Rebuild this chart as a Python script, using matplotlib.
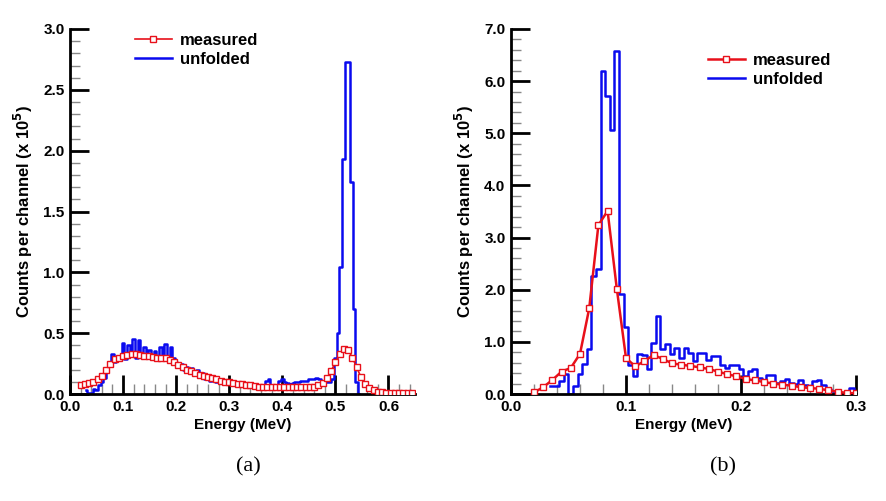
import numpy as np
import matplotlib
matplotlib.use("Agg")
import matplotlib.pyplot as plt
from matplotlib.ticker import MultipleLocator

plt.rcParams['font.family'] = ['Liberation Sans', 'DejaVu Sans']
plt.rcParams['font.weight'] = 'bold'
plt.rcParams['axes.labelweight'] = 'bold'

# ---- (a) measured: channels start at 0.020 MeV, 0.008 MeV apart
a_meas_start, a_meas_step = 0.020, 0.008
a_measured = [0.07, 0.08, 0.09, 0.10, 0.12, 0.15, 0.20, 0.25, 0.29, 0.30,
              0.31, 0.32, 0.325, 0.325, 0.32, 0.315, 0.31, 0.305, 0.30, 0.30,
              0.295, 0.28, 0.26, 0.24, 0.22, 0.20, 0.185, 0.17, 0.16, 0.15,
              0.14, 0.13, 0.12, 0.11, 0.10, 0.095, 0.09, 0.085, 0.08, 0.075,
              0.07, 0.065, 0.06, 0.06, 0.055, 0.055, 0.055, 0.055, 0.055, 0.055,
              0.055, 0.055, 0.055, 0.055, 0.06, 0.06, 0.07, 0.09, 0.13, 0.19,
              0.26, 0.33, 0.37, 0.36, 0.30, 0.22, 0.14, 0.08, 0.05, 0.03,
              0.02, 0.015, 0.01, 0.01, 0.01, 0.01, 0.01, 0.01, 0.01]

# ---- (a) unfolded: bin centres start at 0.030 MeV, 0.005 MeV apart
a_unf_start, a_unf_step = 0.030, 0.005
a_unfolded = [0.03, 0.01, 0.01, 0.04, 0.03, 0.07, 0.10, 0.13, 0.18, 0.24,
              0.33, 0.26, 0.30, 0.29, 0.42, 0.29, 0.40, 0.33, 0.45, 0.30,
              0.44, 0.33, 0.39, 0.33, 0.36, 0.32, 0.35, 0.30, 0.39, 0.30,
              0.41, 0.31, 0.39, 0.30, 0.26, 0.23, 0.25, 0.20, 0.22, 0.18,
              0.21, 0.16, 0.20, 0.14, 0.17, 0.12, 0.13, 0.11, 0.12, 0.10,
              0.10, 0.09, 0.10, 0.09, 0.09, 0.08, 0.09, 0.08, 0.08, 0.08,
              0.07, 0.07, 0.07, 0.06, 0.08, 0.05, 0.04, 0.05, 0.11, 0.12,
              0.07, 0.05, 0.06, 0.11, 0.12, 0.10, 0.09, 0.08, 0.09, 0.10,
              0.10, 0.11, 0.11, 0.11, 0.12, 0.12, 0.12, 0.13, 0.12, 0.11,
              0.10, 0.10, 0.10, 0.12, 0.30, 0.50, 1.04, 1.93, 2.73, 2.73,
              1.74, 0.70, 0.10, 0.00]

# ---- (b) measured: 0.020 .. 0.300 MeV, 0.008 MeV apart
b_meas_start, b_meas_step = 0.020, 0.008
b_measured = [0.03, 0.13, 0.27, 0.43, 0.50, 0.77, 1.64, 3.24, 3.51, 2.02,
              0.69, 0.53, 0.63, 0.75, 0.67, 0.59, 0.56, 0.54, 0.51, 0.48,
              0.43, 0.38, 0.34, 0.29, 0.26, 0.23, 0.20, 0.18, 0.16, 0.13,
              0.115, 0.10, 0.07, 0.045, 0.02, 0.01]

# ---- (b) unfolded: bin left edges start at 0.034 MeV, 0.004 MeV wide
b_unf_start, b_unf_step = 0.034, 0.004
b_unfolded = [0.15, 0.15, 0.25, 0.38, 0.00, 0.15, 0.38, 0.57, 0.87, 2.27,
              2.40, 6.20, 5.72, 5.07, 6.57, 1.92, 1.29, 0.55, 0.35, 0.77,
              0.74, 0.47, 0.98, 1.49, 0.87, 0.96, 0.77, 0.88, 0.70, 0.88,
              0.78, 0.63, 0.78, 0.78, 0.65, 0.72, 0.73, 0.55, 0.50, 0.55,
              0.56, 0.48, 0.35, 0.44, 0.47, 0.30, 0.25, 0.37, 0.36, 0.22,
              0.25, 0.28, 0.22, 0.19, 0.27, 0.17, 0.15, 0.25, 0.27, 0.17,
              0.10, 0.05, 0.02, 0.00, 0.00, 0.12, 0.00]

RED = '#e8101a'
BLUE = '#0a0aef'


def style_axes(ax, xmax, xmajor, ymax, ymajor, yminor):
    ax.set_xlim(0, xmax)
    ax.set_ylim(0, ymax)
    for s in ['top', 'right']:
        ax.spines[s].set_visible(False)
    for s in ['left', 'bottom']:
        ax.spines[s].set_linewidth(2)
    ax.xaxis.set_major_locator(MultipleLocator(xmajor))
    ax.xaxis.set_minor_locator(MultipleLocator(0.02))
    ax.yaxis.set_major_locator(MultipleLocator(ymajor))
    ax.yaxis.set_minor_locator(MultipleLocator(yminor))
    ax.xaxis.set_major_formatter(lambda v, p: f"{v:.1f}")
    ax.yaxis.set_major_formatter(lambda v, p: f"{v:.1f}")
    ax.tick_params(which='major', direction='in', length=14, width=2,
                   color='black', labelsize=11, pad=4)
    ax.tick_params(which='minor', direction='in', length=7, width=1,
                   color='#888888')
    ax.set_xlabel('Energy (MeV)', fontsize=11, labelpad=3)
    ax.set_ylabel('Counts per channel (x 10$^{\\mathbf{5}}$)', fontsize=12,
                  labelpad=6)


fig = plt.figure(figsize=(8.87, 5.01), dpi=100)
ax1 = fig.add_axes([70 / 887, 1 - 394 / 501, 345 / 887, 365 / 501])
ax2 = fig.add_axes([511 / 887, 1 - 394 / 501, 345 / 887, 365 / 501])

# (a)
xa_m = a_meas_start + a_meas_step * np.arange(len(a_measured))
xa_u = a_unf_start + a_unf_step * np.arange(len(a_unfolded))
ax1.plot(xa_m, a_measured, color=RED, lw=1.2, marker='s', ms=4.3,
         mfc='white', mec=RED, mew=1.0, label='measured', zorder=3)
ax1.plot(xa_u, a_unfolded, color=BLUE, lw=1.8, drawstyle='steps-mid',
         label='unfolded', zorder=2)
style_axes(ax1, 0.65, 0.1, 3.0, 0.5, 0.1)
ax1.legend(loc='upper left', bbox_to_anchor=(0.188, 0.99), frameon=False,
           fontsize=12, handlelength=2.2, handletextpad=0.5, labelspacing=0.25,
           borderpad=0, borderaxespad=0)

# (b)
xb_m = b_meas_start + b_meas_step * np.arange(len(b_measured))
xb_e = b_unf_start + b_unf_step * np.arange(len(b_unfolded) + 1)
ax2.plot(xb_m, b_measured, color=RED, lw=1.8, marker='s', ms=4.0,
         mfc='white', mec=RED, mew=1.0, label='measured', zorder=3)
ax2.step(xb_e, list(b_unfolded) + [b_unfolded[-1]], where='post',
         color=BLUE, lw=1.8, label='unfolded', zorder=2)
style_axes(ax2, 0.3, 0.1, 7.0, 1.0, 0.2)
ax2.legend(loc='upper left', bbox_to_anchor=(0.571, 0.935), frameon=False,
           fontsize=12, handlelength=2.2, handletextpad=0.5, labelspacing=0.25,
           borderpad=0, borderaxespad=0)

fig.text(248 / 887, 1 - 467 / 501, '(a)', ha='center', va='center',
         fontsize=16, family='Liberation Serif', weight='normal')
fig.text(723 / 887, 1 - 467 / 501, '(b)', ha='center', va='center',
         fontsize=16, family='Liberation Serif', weight='normal')

fig.savefig('out.png', dpi=100)
